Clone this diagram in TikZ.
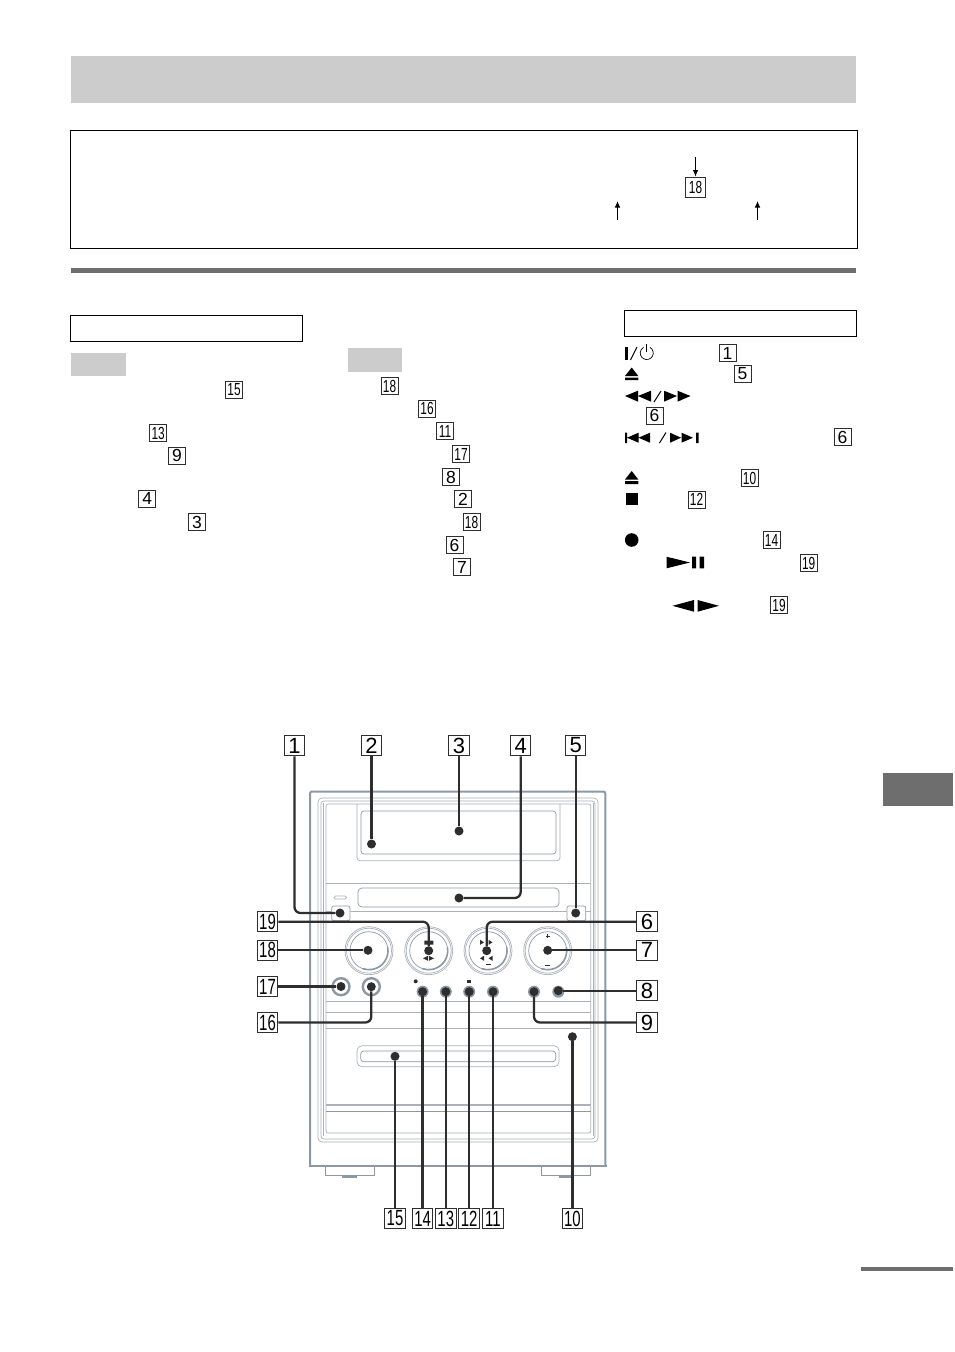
\documentclass[tikz,border=0pt]{standalone}
\usepackage{fontspec}
\usepackage{graphicx}
\setmainfont{Liberation Sans}
\usetikzlibrary{arrows.meta}
\definecolor{bandgray}{HTML}{CCCCCC}
\definecolor{rulegray}{HTML}{6E6E6E}
\definecolor{bodygray}{HTML}{8C99A3}
\definecolor{trimgray}{HTML}{A9B2B9}
\definecolor{inkgray}{HTML}{2E2E2E}
\newcommand{\tn}[1]{\scalebox{.68}[1]{#1}}
\tikzset{
  numbig/.style={draw=inkgray,line width=1pt,fill=white,inner sep=0pt,minimum width=20.5pt,minimum height=20.5pt,font=\fontsize{22}{22}\selectfont},
  numsmall/.style={draw=inkgray,line width=.9pt,fill=white,inner sep=0pt,minimum width=17pt,minimum height=17pt,font=\fontsize{17.5}{17.5}\selectfont},
  spot/.style={circle,fill=inkgray,inner sep=0pt,minimum size=9pt},
  callout/.style={draw=inkgray,line width=2.3pt,rounded corners=6pt},
  band/.style={fill=bandgray,draw=none},
  framebox/.style={draw=black,line width=1pt},
  thinarrow/.style={draw=black,line width=.8pt,-{Latex[length=6.5pt,width=5.5pt]}},
  trim/.style={draw=trimgray,line width=.7pt},
  shell/.style={draw=bodygray,line width=2pt}
}
\begin{document}
\begin{tikzpicture}[x=1pt,y=-1pt]
  \useasboundingbox (0,0) rectangle (954,1352);
  \fill[white] (0,0) rectangle (954,1352);
  % page furniture
  \path[band] (71,56) rectangle (856,103);
  \path[framebox] (70.5,130.5) rectangle (857.5,248);
  \fill[rulegray] (71,268) rectangle (856,272.5);
  \path[framebox] (70.5,315) rectangle (302.5,341.5);
  \path[framebox] (624.5,310.5) rectangle (856.5,336.5);
  \path[band] (71,353) rectangle (126,376);
  \path[band] (348,348) rectangle (402,372);
  \fill[rulegray] (883,773) rectangle (953,806);
  \fill[rulegray] (861,1267) rectangle (953,1270.5);
  % note box
  \draw
    (695.5,187) node[numsmall,minimum size=20pt] (topref){\tn{18}}
    (695.5,157) coordinate (topa)
    (617.5,220) coordinate (lefta) (617.5,201) coordinate (leftb)
    (757.5,220) coordinate (righta) (757.5,201) coordinate (rightb);
  \draw[thinarrow] (topa) to (topref);
  \draw[thinarrow] (lefta) to (leftb);
  \draw[thinarrow] (righta) to (rightb);
  % text references
  \draw
    (234,390) node[numsmall] (a15){\tn{15}}
    (158.2,433) node[numsmall] (a13){\tn{13}}
    (177,455.7) node[numsmall] (a9){9}
    (147.2,498.7) node[numsmall] (a4){4}
    (197,522) node[numsmall] (a3){3}
    (389.5,386) node[numsmall] (b18){\tn{18}}
    (427,408.7) node[numsmall] (b16){\tn{16}}
    (445,431) node[numsmall] (b11){\tn{11}}
    (461,454) node[numsmall] (b17){\tn{17}}
    (451,477) node[numsmall] (b8){8}
    (463,499) node[numsmall] (b2){2}
    (471.5,522) node[numsmall] (c18){\tn{18}}
    (454.5,545) node[numsmall] (b6){6}
    (462,567) node[numsmall] (b7){7}
    (727.5,353) node[numsmall] (k1){1}
    (742.5,374) node[numsmall] (k5){5}
    (654.5,415.7) node[numsmall] (k6){6}
    (842.5,437) node[numsmall] (m6){6}
    (749.5,478) node[numsmall] (k10){\tn{10}}
    (696.5,499.5) node[numsmall] (k12){\tn{12}}
    (771.5,540) node[numsmall] (k14){\tn{14}}
    (808.7,563) node[numsmall] (k19){\tn{19}}
    (779,605) node[numsmall] (m19){\tn{19}};
  % key symbols
  \fill[black] (625,346.5) rectangle (628.3,359.5);
  \draw[black,line width=1pt] (630.5,360) -- (637,347);
  \draw[black,line width=.7pt] (650,347.4) arc (-60:240:6.5);
  \draw[black,line width=.7pt] (646.8,344) -- (646.8,352);
  \fill[black] (625,376) -- (631.7,367.5) -- (638.3,376) -- cycle (625,377.5) rectangle (638.3,380);
  \fill[black] (625,396) -- (638,390.7) -- (638,401.7) -- cycle (638,396) -- (651,390.7) -- (651,401.7) -- cycle;
  \draw[black,line width=1pt] (654,402) -- (661,391);
  \fill[black] (677,396) -- (664,390.7) -- (664,401.7) -- cycle (690.5,396) -- (677.5,390.7) -- (677.5,401.7) -- cycle;
  \fill[black] (625,432.5) rectangle (627,443) (627,437.7) -- (638.5,432.7) -- (638.5,442.7) -- cycle (638.5,437.7) -- (650,432.7) -- (650,442.7) -- cycle;
  \draw[black,line width=1pt] (659.5,443) -- (666,432.5);
  \fill[black] (681,437.7) -- (670,432.7) -- (670,442.7) -- cycle (693,437.7) -- (681.5,432.7) -- (681.5,442.7) -- cycle (696,432.5) rectangle (698.5,443);
  \fill[black] (625,479.5) -- (631.7,471) -- (638.3,479.5) -- cycle (625,481) rectangle (638.3,484);
  \fill[black] (625.7,493.3) rectangle (637.7,505);
  \fill[black] (631.7,540) circle (6.8);
  \fill[black] (666.5,556.7) -- (690,562.5) -- (666.5,568.3) -- cycle (692,556.7) rectangle (696,568.3) (699.5,556.7) rectangle (704,568.3);
  \fill[black] (672.5,605.8) -- (694,600) -- (694,611.7) -- cycle (719,605.8) -- (697.5,600) -- (697.5,611.7) -- cycle;
  % cabinet
  \draw[shell,rounded corners=2pt] (310,1165.7) -- (310,791.5) -- (605.3,791.5) -- (605.3,1165.7);
  \draw[shell] (308.5,1165.7) -- (606.8,1165.7);
  \draw[trim,rounded corners=4pt] (318,1142) rectangle (598,798);
  \draw[trim,rounded corners=3pt] (321,1139) rectangle (595,801);
  \draw[trim,rounded corners=2pt] (326,1133) rectangle (590.7,804);
  \draw[trim] (323.5,1136) -- (323.5,803) (593,1136) -- (593,803);
  % feet
  \draw[trim,draw=bodygray] (325,1167) -- (325,1175.5) -- (374,1175.5) -- (374,1167);
  \draw[shell] (342,1177) -- (357,1177);
  \draw[trim,draw=bodygray] (541.7,1167) -- (541.7,1175.5) -- (590.7,1175.5) -- (590.7,1167);
  \draw[shell] (559,1177) -- (574,1177);
  % display and slots
  \draw[trim] (357,804) -- (357,857) [rounded corners=3pt] -- (357,860.7) -- (560,860.7) -- (560,804);
  \draw[trim,rounded corners=3pt,draw=bodygray] (361,811) rectangle (556,854);
  \draw[trim] (326,883) -- (590.7,883);
  \draw[trim,rounded corners=4pt,draw=bodygray] (358,888) rectangle (559,907);
  \draw[trim,rounded corners=1.5pt] (334,896) rectangle (346.7,899);
  \draw[trim,rounded corners=2pt,draw=bodygray] (331.7,906) rectangle (350,920.7);
  \draw[trim,rounded corners=2pt,draw=bodygray] (567,906) rectangle (585.7,920.7);
  \draw[trim] (326,911.7) -- (331.7,911.7) (350,911.7) -- (567,911.7) (585.7,911.7) -- (590.7,911.7);
  \draw[trim] (326,1001.7) -- (590.7,1001.7) (326,1012) -- (590.7,1012) (326,1028) -- (590.7,1028);
  \draw[trim,rounded corners=5pt] (357,1045.7) rectangle (559,1066.7);
  \draw[trim,rounded corners=3pt,draw=bodygray] (360.7,1051) rectangle (555.7,1061.7);
  \draw[trim,line width=1.5pt] (326,1105) -- (590.7,1105);
  \draw[trim,draw=bodygray] (326,1111) -- (590.7,1111);
  % knobs
  \foreach \kx in {369,428.7,488,547.7} {
    \draw[trim] (\kx,950.7) circle (24);
    \draw[trim] (\kx,950.7) circle (22.5);
    \draw[trim,draw=bodygray] (\kx,950.7) circle (19);
    \draw[draw=bodygray,line width=1.6pt] (\kx,950.7) ++(-10:19) arc (-10:110:19);
  }
  \draw[shell,line width=2.4pt] (341,986.7) circle (8.5);
  \draw[shell,line width=2.4pt] (371.3,986.7) circle (8.5);
  \foreach \bx in {422.6,445.8,469.2,493,534,558.3} {
    \fill[bodygray] (\bx,991.7) circle (6);
  }
  \fill[inkgray] (415.7,981.3) circle (2);
  \fill[inkgray] (467.2,979.5) rectangle (470.8,983);
  \draw[inkgray,line width=.6pt] (545.5,936) -- (549.5,936) (547.5,934) -- (547.5,938) (545,965.5) -- (550,965.5) (485.5,964.5) -- (490.5,964.5);
  % marks on the round keys
  \fill[inkgray] (424.3,940.5) rectangle (433.3,944.5) (423,958.3) -- (428,955.8) -- (428,960.8) -- cycle (434,958.3) -- (429,955.8) -- (429,960.8) -- cycle;
  \foreach \mx in {480,488.5} {
    \fill[inkgray] (\mx+4,942.3) -- (\mx,939.8) -- (\mx,944.8) -- cycle;
    \fill[inkgray] (\mx,958.3) -- (\mx+4,955.8) -- (\mx+4,960.8) -- cycle;
  }
  % number labels
  \draw
    (294.5,745.5) node[numbig] (n1){1}
    (371.5,745.5) node[numbig] (n2){2}
    (459,745.5) node[numbig] (n3){3}
    (520.7,745.5) node[numbig] (n4){4}
    (575.7,745.5) node[numbig] (n5){5}
    (647,921.7) node[numbig] (n6){6}
    (647,950.3) node[numbig] (n7){7}
    (647,990.7) node[numbig] (n8){8}
    (647,1022.5) node[numbig] (n9){9}
    (572.4,1218.5) node[numbig] (n10){\tn{10}}
    (493,1218.5) node[numbig] (n11){\tn{11}}
    (469.2,1218.5) node[numbig] (n12){\tn{12}}
    (445.8,1218.5) node[numbig] (n13){\tn{13}}
    (422.6,1218.5) node[numbig] (n14){\tn{14}}
    (395,1218.5) node[numbig] (n15){\tn{15}}
    (267.5,1022.5) node[numbig] (n16){\tn{16}}
    (267.5,986.5) node[numbig] (n17){\tn{17}}
    (267.5,950.3) node[numbig] (n18){\tn{18}}
    (267.5,921.7) node[numbig] (n19){\tn{19}};
  % spots
  \draw
    (340,913) node[spot] (d1){}
    (371.5,844) node[spot] (d2){}
    (459,831) node[spot] (d3){}
    (459,898) node[spot] (d4){}
    (575.7,913) node[spot] (d5){}
    (486.7,950.7) node[spot] (d6){}
    (547.7,950.3) node[spot] (d7){}
    (558.3,990.7) node[spot] (d8){}
    (534,991.7) node[spot] (d9){}
    (572.4,1036.7) node[spot] (d10){}
    (493,991.7) node[spot] (d11){}
    (469.2,991.7) node[spot] (d12){}
    (445.8,991.7) node[spot] (d13){}
    (422.6,991.7) node[spot] (d14){}
    (395,1056.3) node[spot] (d15){}
    (371.3,986.7) node[spot] (d16){}
    (341,986.5) node[spot] (d17){}
    (368,950.3) node[spot] (d18){}
    (428.7,950.7) node[spot] (d19){};
  \begin{scope}[callout]
    \draw (n1) |- (d1);
    \draw (n2) to (d2);
    \draw (n3) to (d3);
    \draw (d4) -| (n4);
    \draw (n5) to (d5);
    \draw (d6) |- (n6);
    \draw (d7) to (n7);
    \draw (d8) to (n8);
    \draw (d9) |- (n9);
    \draw (d10) to (n10);
    \draw (d11) to (n11);
    \draw (d12) to (n12);
    \draw (d13) to (n13);
    \draw (d14) to (n14);
    \draw (d15) to (n15);
    \draw (d16) |- (n16);
    \draw (n17) to (d17);
    \draw (n18) to (d18);
    \draw (n19) -| (d19);
  \end{scope}
\end{tikzpicture}
\end{document}
